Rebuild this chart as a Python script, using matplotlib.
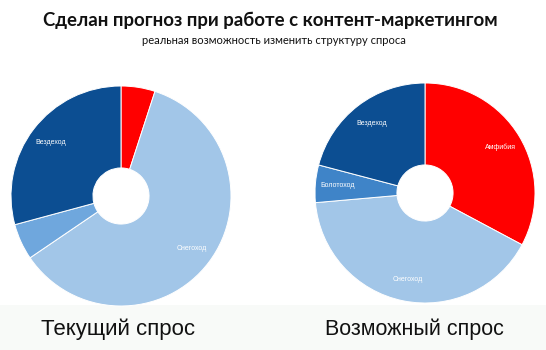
import matplotlib.pyplot as plt
from matplotlib.patches import Rectangle

# Demand structure, share of each vehicle type (%), clockwise from 12 o'clock
segments = ["Амфибия", "Снегоход", "Болотоход", "Вездеход"]
current_share = [5.0, 60.5, 5.3, 29.2]
possible_share = [32.8, 40.8, 5.5, 20.9]
current_labels = ["", "Снегоход", "", "Вездеход"]
possible_labels = ["Амфибия", "Снегоход", "Болотоход", "Вездеход"]

title = "Сделан прогноз при работе с контент-маркетингом"
subtitle = "реальная возможность изменить структуру спроса"
captions = ["Текущий спрос", "Возможный спрос"]

W, H = 546, 350
fig = plt.figure(figsize=(W / 100, H / 100), dpi=100)
fig.patch.set_facecolor("white")

# faint strip behind the captions
fig.patches.append(Rectangle((0, 0), 1, 45 / H, transform=fig.transFigure,
                             facecolor="#f8faf8", edgecolor="none", zorder=-5))


def donut(cx, cy, r, values, labels, colors):
    ax = fig.add_axes([(cx - r) / W, (H - cy - r) / H, 2 * r / W, 2 * r / H])
    ax.set_zorder(1)
    wedges, texts = ax.pie(
        values,
        labels=labels,
        colors=colors,
        startangle=90,
        counterclock=False,
        labeldistance=0.8,
        wedgeprops=dict(width=0.745, edgecolor="white", linewidth=0.7),
        textprops=dict(color="white", fontsize=5, family="Liberation Sans"),
    )
    for t in texts:
        t.set_ha("center")
        t.set_va("center")
    ax.set_xlim(-1, 1)
    ax.set_ylim(-1, 1)
    ax.set_aspect("equal")
    ax.axis("off")


donut(121, 196, 110, current_share, current_labels,
      ["#ff0000", "#a2c6e8", "#6fa7dd", "#0c4e92"])
donut(425, 193, 110, possible_share, possible_labels,
      ["#ff0000", "#a2c6e8", "#3f84c8", "#0c4e92"])

fig.text(270 / W, 1 - 20 / H, title, ha="center", va="center",
         fontsize=13.4, fontweight="bold", family="Lato", color="#111111")
fig.text(274 / W, 1 - 41 / H, subtitle, ha="center", va="center",
         fontsize=8, family="Lato", color="#111111")

fig.text(118 / W, 1 - 329 / H, captions[0], ha="center", va="center",
         fontsize=16, family="Liberation Sans", color="#111111")
fig.text(414 / W, 1 - 329 / H, captions[1], ha="center", va="center",
         fontsize=15.5, family="Liberation Sans", color="#111111")

fig.savefig("out.png", dpi=100)
